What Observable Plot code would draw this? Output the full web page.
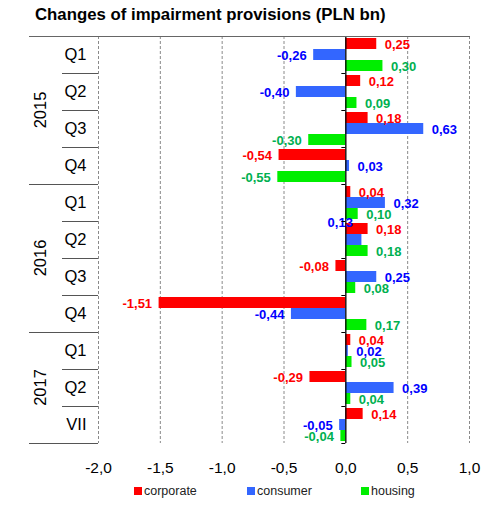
<!DOCTYPE html>
<html>
<head>
<meta charset="utf-8">
<script src="https://cdn.jsdelivr.net/npm/d3@7"></script>
<script src="https://cdn.jsdelivr.net/npm/@observablehq/plot@0.6"></script>
<style>
  body { margin: 0; background: #fff; font-family: "Liberation Sans", Arial, sans-serif; }
  #wrap { position: relative; width: 483px; height: 505px; }
  #title { position: absolute; left: 35px; top: 5px; font: bold 16.8px "Liberation Sans", Arial, sans-serif; color: #000; white-space: nowrap; line-height: 20px; }
  #chart { position: absolute; left: 0; top: 0; }
  #legend { position: absolute; left: 0; top: 483px; width: 483px; height: 16px; font: 12.5px "Liberation Sans", Arial, sans-serif; color: #222; }
  .li { position: absolute; top: 0; display: flex; align-items: center; height: 16px; }
  .sw { width: 8px; height: 8px; margin-right: 2px; display: inline-block; }
</style>
</head>
<body>
<div id="wrap">
  <div id="chart"></div>
  <div id="title">Changes of impairment provisions (PLN bn)</div>
  <div id="legend"></div>
</div>
<script>
// ---- data ----
const periods = ["2015 Q1","2015 Q2","2015 Q3","2015 Q4","2016 Q1","2016 Q2","2016 Q3","2016 Q4","2017 Q1","2017 Q2","2017 VII"];
const quarterLabels = ["Q1","Q2","Q3","Q4","Q1","Q2","Q3","Q4","Q1","Q2","VII"];
const yearOfPeriod = ["2015","2015","2015","2015","2016","2016","2016","2016","2017","2017","2017"];
const years = ["2015","2016","2017"];
const seriesNames = ["corporate","consumer","housing"];
const corporate = [0.25, 0.12, 0.18, -0.54, 0.04, 0.18, -0.08, -1.51, 0.04, -0.29, 0.14];
const consumer  = [-0.26, -0.40, 0.63, 0.03, 0.32, 0.13, 0.25, -0.44, 0.02, 0.39, -0.05];
const housing   = [0.30, 0.09, -0.30, -0.55, 0.10, 0.18, 0.08, 0.17, 0.05, 0.04, -0.04];
const xTicks = [-2, -1.5, -1, -0.5, 0, 0.5, 1];

(function () {
// ---- styles ----
const barColors = {corporate: "#ff0000", consumer: "#3366ff", housing: "#00ee00"};
const labelColors = {corporate: "#ff0000", consumer: "#0000ff", housing: "#00b050"};
const insets = {corporate: [2, 24], consumer: [13, 13], housing: [24, 2]};
const labelDy = {corporate: -11, consumer: 0, housing: 11};

const seriesValues = {corporate, consumer, housing};
const data = periods.flatMap((p, i) => seriesNames.map(s => ({period: p, series: s, value: seriesValues[s][i]})));

const fmtTick = v => (v < 0 ? "-" : "") + Math.abs(v).toFixed(1).replace(".", ",");
const fmtVal = v => (v < 0 ? "-" : "") + Math.abs(v).toFixed(2).replace(".", ",");
const qLabel = new Map(periods.map((p, i) => [p, quarterLabels[i]]));
const isOddLabel = d => d.period === "2016 Q2" && d.series === "consumer";

const marks = [
  Plot.ruleX(xTicks.filter(t => t !== 0), {stroke: "#8a8a8a", strokeDasharray: "3,2", strokeWidth: 1}),
];
for (const s of seriesNames) {
  const sub = data.filter(d => d.series === s);
  marks.push(Plot.barX(sub, {x: "value", y: "period", fill: barColors[s], insetTop: insets[s][0], insetBottom: insets[s][1]}));
}
marks.push(Plot.ruleX([0], {stroke: "#000", strokeWidth: 1.3}));
for (const s of seriesNames) {
  const sub = data.filter(d => d.series === s && !isOddLabel(d));
  const common = {x: "value", y: "period", text: d => fmtVal(d.value), fill: labelColors[s], fontWeight: "bold", fontSize: 13, dy: labelDy[s] + 0.5};
  marks.push(Plot.text(sub.filter(d => d.value >= 0), {...common, textAnchor: "start", dx: 8}));
  marks.push(Plot.text(sub.filter(d => d.value < 0), {...common, textAnchor: "end", dx: -7}));
}
marks.push(Plot.text(data.filter(isOddLabel), {x: "value", y: "period", text: d => fmtVal(d.value), fill: labelColors.consumer, fontWeight: "bold", fontSize: 13, textAnchor: "end", dx: -9, dy: -17}));
marks.push(Plot.axisX({ticks: xTicks, tickFormat: fmtTick, tickSize: 0, tickPadding: 18, fontSize: 15.5, label: null}));
marks.push(Plot.axisY({tickSize: 0, tickPadding: 12, tickFormat: d => qLabel.get(d), fontSize: 16.5, label: null}));

const chart = Plot.plot({
  width: 483,
  height: 480,
  marginTop: 36,
  marginBottom: 37,
  marginLeft: 98,
  marginRight: 14,
  style: {fontFamily: "Liberation Sans, Arial, sans-serif", background: "transparent", overflow: "visible"},
  x: {domain: [-2, 1]},
  y: {domain: periods, padding: 0},
  marks
});
document.getElementById("chart").appendChild(chart);

// ---- structural lines and year labels, positioned through Plot's scales ----
const ysd = chart.scale("y");
const xsd = chart.scale("x");
const yb = d3.scaleBand().domain(ysd.domain).range(ysd.range).paddingInner(ysd.paddingInner || 0).paddingOuter(ysd.paddingOuter || 0).align(ysd.align ?? 0.5);
const xl = d3.scaleLinear().domain(xsd.domain).range(xsd.range);
const svg = d3.select(chart);
const g = svg.append("g");
const leftX = xl(-2), rightX = xl(1), x0 = xl(0);
const topY = yb(periods[0]);
g.append("line").attr("x1", 29).attr("x2", rightX + 1).attr("y1", topY + 0.5).attr("y2", topY + 0.5).attr("stroke", "#666");
periods.forEach((p, i) => {
  const yy = Math.round(yb(p) + yb.bandwidth()) + 0.5;
  const yearEnd = i === periods.length - 1 || yearOfPeriod[i + 1] !== yearOfPeriod[i];
  g.append("line").attr("x1", yearEnd ? 29 : 62).attr("x2", leftX).attr("y1", yy).attr("y2", yy).attr("stroke", "#555");
  g.append("line").attr("x1", x0 - 4).attr("x2", x0).attr("y1", yy).attr("y2", yy).attr("stroke", "#000");
});
years.forEach(yr => {
  const ps = periods.filter((p, i) => yearOfPeriod[i] === yr);
  const c = (yb(ps[0]) + yb(ps[ps.length - 1]) + yb.bandwidth()) / 2;
  g.append("text").attr("transform", `translate(40,${c}) rotate(-90)`)
    .attr("text-anchor", "middle").attr("dominant-baseline", "central")
    .attr("font-size", 16.5).attr("fill", "#000").text(yr);
});

// ---- legend ----
const legendX = {corporate: 134, consumer: 247, housing: 361};
const legend = document.getElementById("legend");
for (const s of seriesNames) {
  const item = document.createElement("div");
  item.className = "li";
  item.style.left = legendX[s] + "px";
  item.innerHTML = `<span class="sw" style="background:${barColors[s]}"></span><span>${s}</span>`;
  legend.appendChild(item);
}
})();
</script>
</body>
</html>
